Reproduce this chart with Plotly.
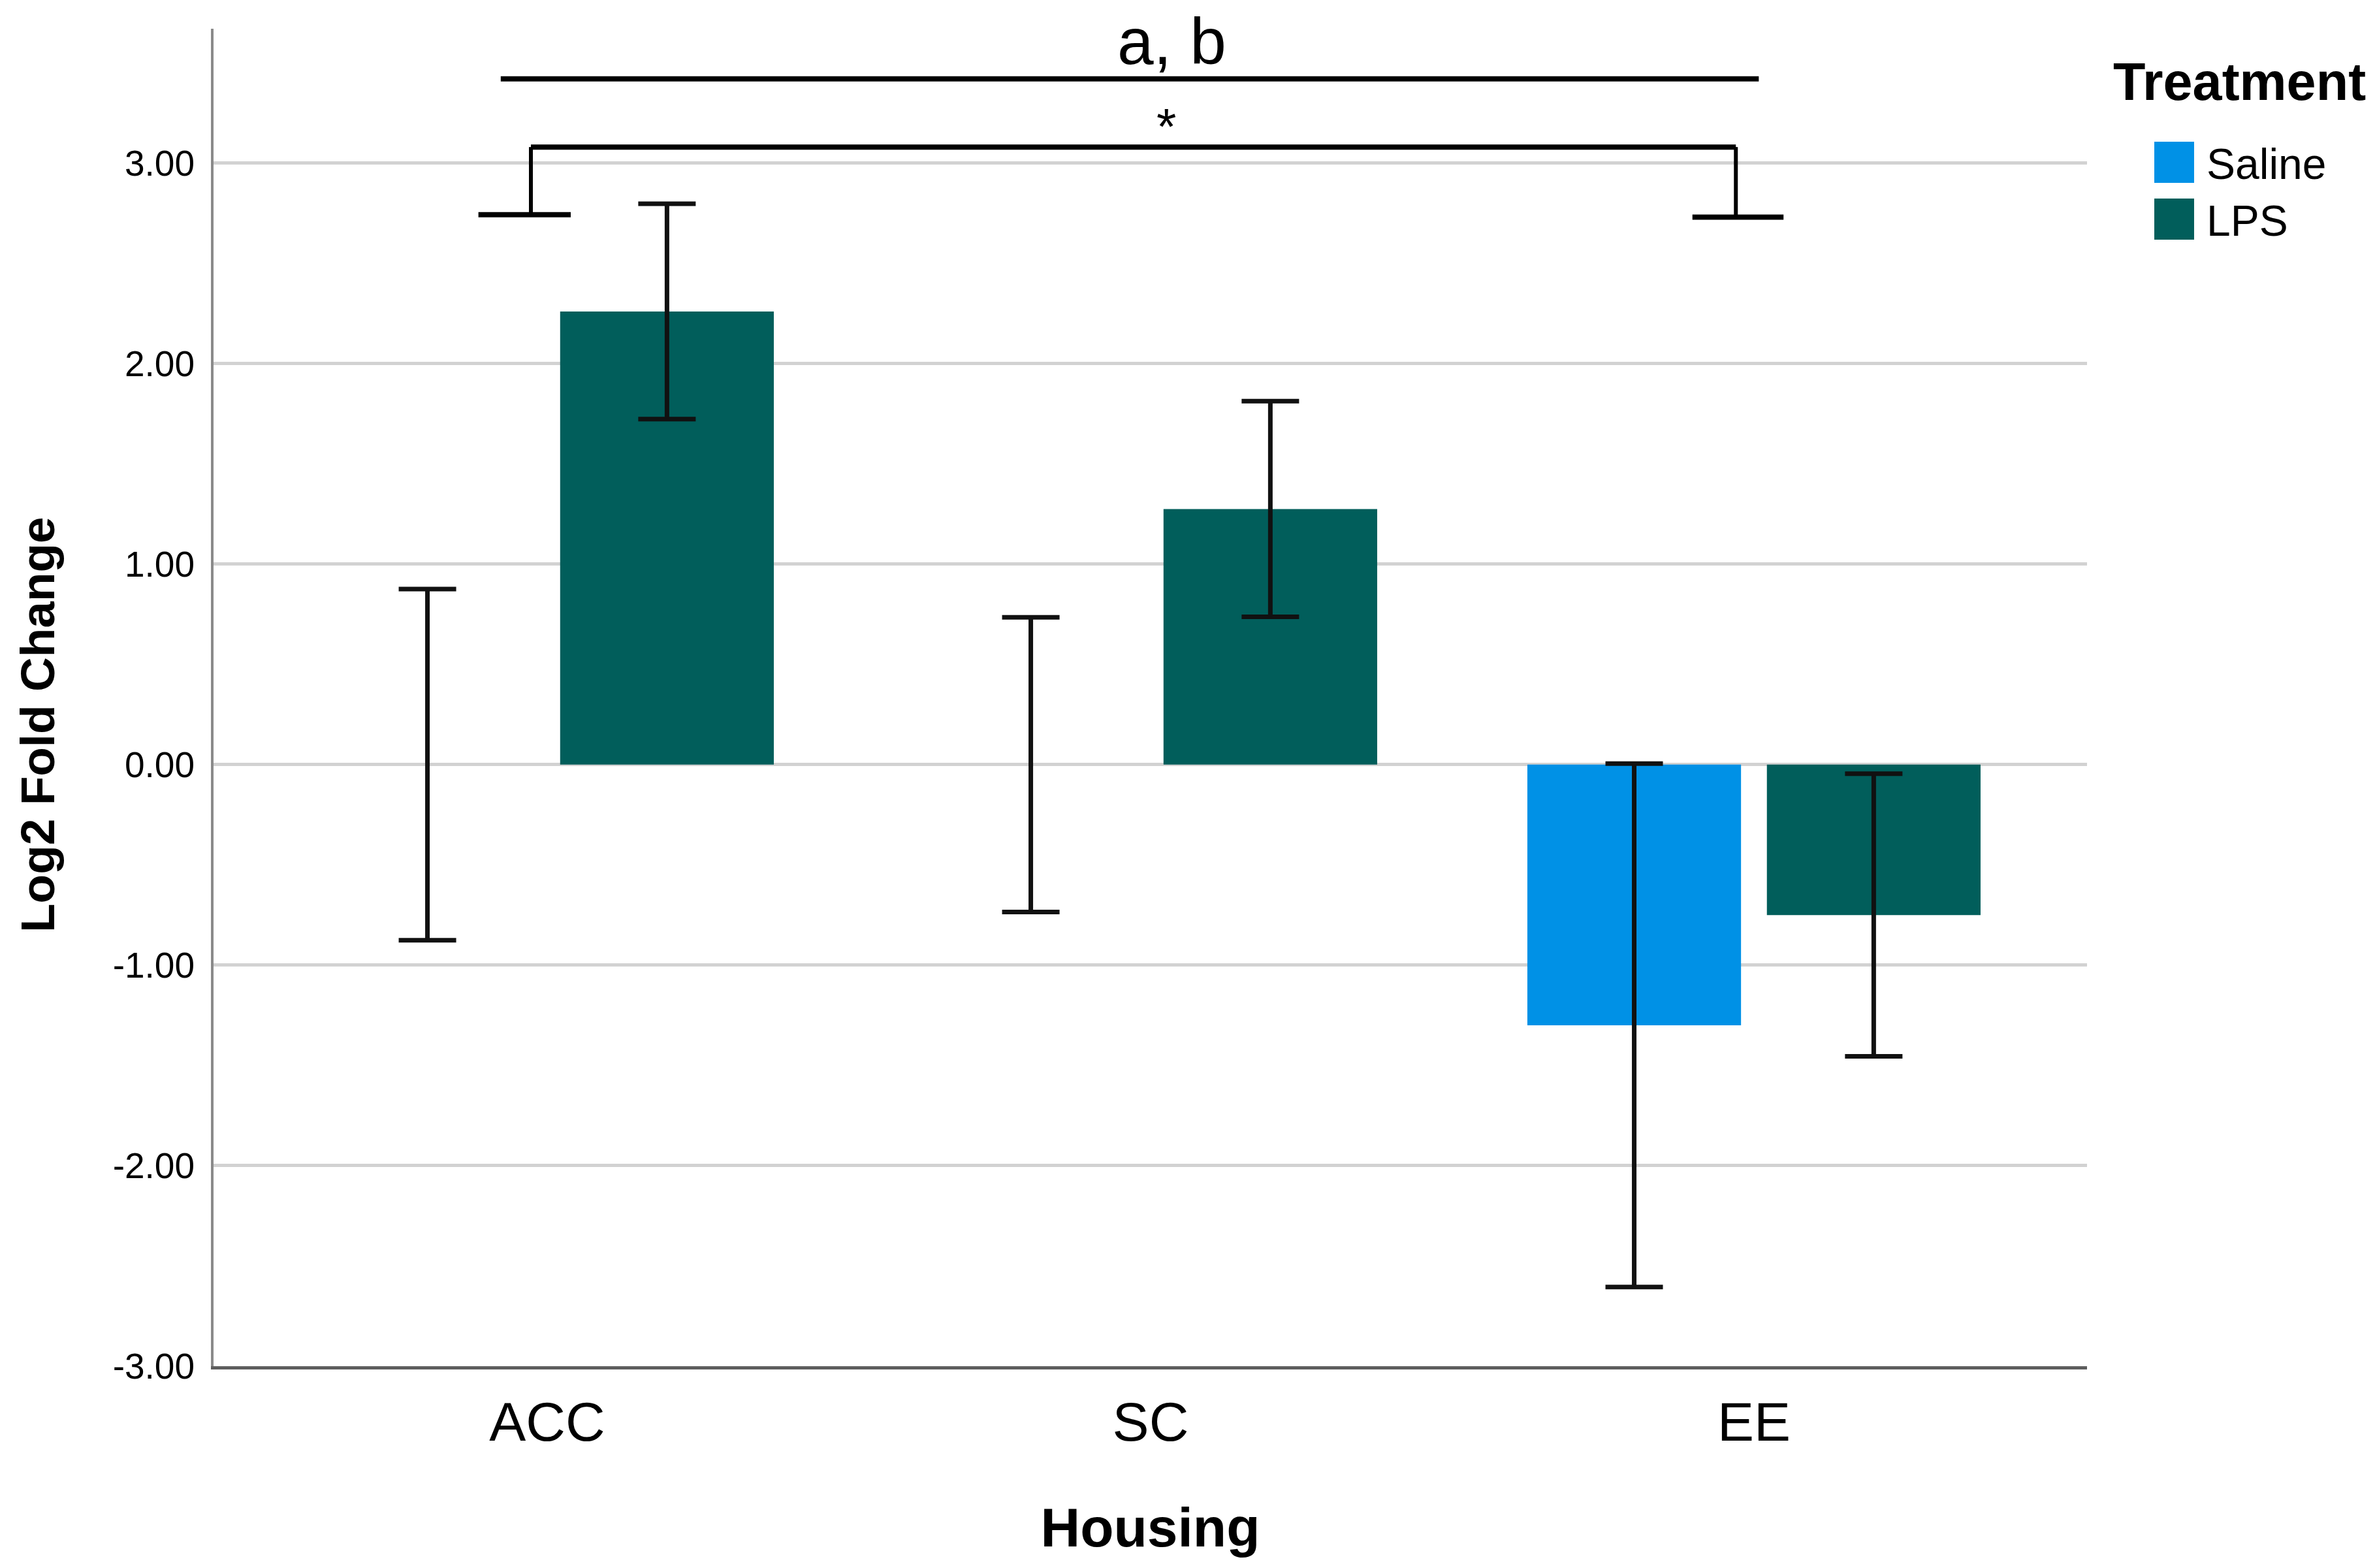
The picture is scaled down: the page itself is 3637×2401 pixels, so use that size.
import plotly.graph_objects as go

# ---- data ----
categories = ["ACC", "SC", "EE"]
treatments = ["Saline", "LPS"]
saline_means = [0.0, 0.0, -1.30]
saline_err = [0.876, 0.735, 1.305]
lps_means = [2.26, 1.275, -0.75]
lps_err = [0.537, 0.538, 0.705]
y_ticks = [-3, -2, -1, 0, 1, 2, 3]
y_tick_labels = ["-3.00", "-2.00", "-1.00", "0.00", "1.00", "2.00", "3.00"]

colors = {"Saline": "#0091E6", "LPS": "#015E5B"}
FONT = "Liberation Sans, Arial, sans-serif"

W, H = 3637, 2401
ML, MR, MT, MB = 319, 449, 36, 317

fig = go.Figure()
for name, means, errs in [("Saline", saline_means, saline_err),
                          ("LPS", lps_means, lps_err)]:
    fig.add_trace(go.Bar(
        x=categories, y=means, name=name,
        marker=dict(color=colors[name], line=dict(width=0)),
        error_y=dict(type="data", array=errs, visible=True,
                     color="#111111", thickness=7, width=44),
        showlegend=False,
    ))

# significance brackets (data coordinates)
line_black = dict(color="black", width=8)
shapes = [
    dict(type="line", xref="x", yref="y", x0=-0.077, x1=2.008, y0=3.42, y1=3.42, line=line_black),
    dict(type="line", xref="x", yref="y", x0=-0.027, x1=1.970, y0=3.08, y1=3.08, line=line_black),
    dict(type="line", xref="x", yref="y", x0=-0.027, x1=-0.027, y0=3.08, y1=2.743, line=dict(color="black", width=6)),
    dict(type="line", xref="x", yref="y", x0=1.970, x1=1.970, y0=3.08, y1=2.73, line=dict(color="black", width=6)),
    dict(type="line", xref="x", yref="y", x0=-0.114, x1=0.039, y0=2.743, y1=2.743, line=line_black),
    dict(type="line", xref="x", yref="y", x0=1.898, x1=2.049, y0=2.73, y1=2.73, line=line_black),
]

def px2paper_x(px):
    return (px - ML) / (W - ML - MR)

def px2paper_y(py):
    return (H - MB - py) / (H - MT - MB)

legend_rows = [(treatments[0], 209, 272), (treatments[1], 296, 359)]
annotations = []
for name, top, bot in legend_rows:
    shapes.append(dict(type="rect", xref="paper", yref="paper",
                       x0=px2paper_x(3291), x1=px2paper_x(3352),
                       y0=px2paper_y(bot), y1=px2paper_y(top),
                       fillcolor=colors[name], line=dict(width=0)))
    annotations.append(dict(xref="paper", yref="paper", x=px2paper_x(3369),
                            y=px2paper_y((top + bot) / 2 + 2), xanchor="left", yanchor="middle",
                            text=name, showarrow=False,
                            font=dict(family=FONT, size=66, color="black")))
annotations.append(dict(xref="paper", yref="paper", x=px2paper_x(3226), y=px2paper_y(117),
                        xanchor="left", yanchor="middle", text="<b>Treatment</b>", showarrow=False,
                        font=dict(family=FONT, size=81, color="black")))

# y-axis title (placed like the reference, slightly below the axis centre)
annotations.append(dict(xref="paper", yref="paper", x=px2paper_x(49), y=px2paper_y(1102),
                        xanchor="center", yanchor="middle", textangle=-90,
                        text="<b>Log2 Fold Change</b>", showarrow=False,
                        font=dict(family=FONT, size=73, color="black")))

# significance labels
annotations.append(dict(xref="x", yref="y", x=1.035, y=3.608, text="a, b", showarrow=False,
                        xanchor="center", yanchor="middle",
                        font=dict(family=FONT, size=100, color="black")))
annotations.append(dict(xref="x", yref="y", x=1.026, y=3.18, text="*", showarrow=False,
                        xanchor="center", yanchor="middle",
                        font=dict(family=FONT, size=78, color="black")))

fig.update_layout(
    width=W, height=H,
    margin=dict(l=ML, r=MR, t=MT, b=MB, autoexpand=False),
    paper_bgcolor="white", plot_bgcolor="white",
    barmode="group", bargap=0.206, bargroupgap=0.108,
    font=dict(family=FONT, color="black"),
    shapes=shapes, annotations=annotations,
    showlegend=False,
)
fig.update_xaxes(
    range=[-0.553, 2.552], showgrid=False, zeroline=False,
    showline=True, linecolor="#5e5e5e", linewidth=5,
    ticks="", ticklabelstandoff=8,
    tickfont=dict(family=FONT, size=84, color="black"),
    title=dict(text="<b>Housing</b>", font=dict(family=FONT, size=84, color="black"), standoff=88),
    automargin=False,
)
fig.update_yaxes(
    range=[-3, 3.67], tickvals=y_ticks, ticktext=y_tick_labels,
    showgrid=True, gridcolor="#d2d2d2", gridwidth=4.5, zeroline=False,
    showline=True, linecolor="#8a8a8a", linewidth=4,
    ticks="", ticklabelstandoff=14,
    tickfont=dict(family=FONT, size=55, color="black"),
    automargin=False,
)

fig.write_html("out.html")
